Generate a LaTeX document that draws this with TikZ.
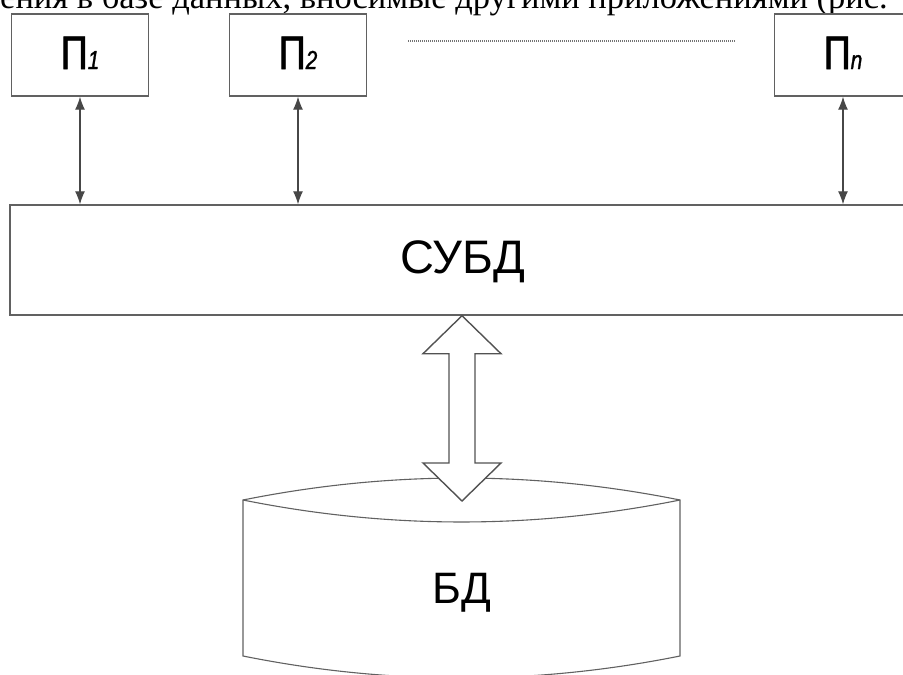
\documentclass[tikz,border=0pt]{standalone}
\usepackage{fontspec}
\setmainfont{Liberation Serif}
\newfontfamily\lab{Liberation Sans}
\newfontfamily\plabfont[FakeStretch=0.8,FakeBold=1.2]{Liberation Sans}
\usetikzlibrary{arrows.meta,calc}
\newcommand\plab[1]{{\plabfont\fontsize{47}{50}\selectfont П{\fontsize{26}{26}\selectfont\itshape #1}}}
\begin{document}
\begin{tikzpicture}[x=1pt,y=-1pt,
  box/.style={draw=black!62, line width=1.4pt, fill=white, inner sep=0pt},
  link/.style={draw=black!72, line width=1.1pt, {Latex[length=13pt,width=10pt]}-{Latex[length=13pt,width=10pt]}},
  cyl/.style={draw=black!62, line width=1.1pt},
  big/.style={draw=black!68, line width=1.4pt, fill=white, line join=miter},
  lbl/.style={font=\lab\fontsize{46}{50}\selectfont, inner sep=0pt, anchor=base},
  plbl/.style={inner sep=0pt, anchor=base}]
\useasboundingbox (0,0) rectangle (903,675);
\clip (0,0) rectangle (903,675);
% cut-off caption line of the page
\node[anchor=base west, inner sep=0pt, font=\fontsize{34.5}{38}\selectfont] (cap) at (0,8)
  {ения в базе данных, вносимые другими приложениями (рис.};
% applications
\node[box, minimum width=137pt, minimum height=82pt] (p1) at (80,55) {};
\node[box, minimum width=137pt, minimum height=82pt] (p2) at (298,55) {};
\node[box, minimum width=137pt, minimum height=82pt] (pn) at (843,55) {};
\node[plbl] (p1t) at (80,69) {\plab{1}};
\node[plbl] (p2t) at (298,69) {\plab{2}};
\node[plbl] (pnt) at (843,69) {\plab{n}};
\coordinate (d1) at (408,41);
\coordinate (d2) at (735,41);
\draw[black!55, line width=1.1pt, dash pattern=on 1pt off 1pt] (d1) -- (d2);
% DBMS
\node[box, minimum width=904pt, minimum height=110pt] (s) at (462,260) {};
\node[lbl, font=\lab\fontsize{47}{50}\selectfont] (st) at (463,273) {СУБД};
\draw[link] (p1.south) -- (p1.south |- s.north);
\draw[link] (p2.south) -- (p2.south |- s.north);
\draw[link] (pn.south) -- (pn.south |- s.north);
% database cylinder
\draw[cyl, fill=white] (243,500) .. controls (388.7,470.7) and (534.3,470.7) .. (680,500)
  -- (680,656) .. controls (534.3,685.3) and (388.7,685.3) .. (243,656) -- cycle;
\draw[cyl] (243,500) .. controls (388.7,529.3) and (534.3,529.3) .. (680,500);
\node[lbl, font=\lab\fontsize{44}{48}\selectfont] (db) at (462,603) {БД};
\coordinate (bt) at (462,501);
% big double arrow
\draw[big] (s.south) -- ($(s.south)+(39,38)$) -- ($(s.south)+(13,38)$)
  -- ($(bt)+(13,-38)$) -- ($(bt)+(39,-38)$) -- (bt) -- ($(bt)+(-39,-38)$)
  -- ($(bt)+(-13,-38)$) -- ($(s.south)+(-13,38)$) -- ($(s.south)+(-39,38)$) -- cycle;
\end{tikzpicture}
\end{document}
